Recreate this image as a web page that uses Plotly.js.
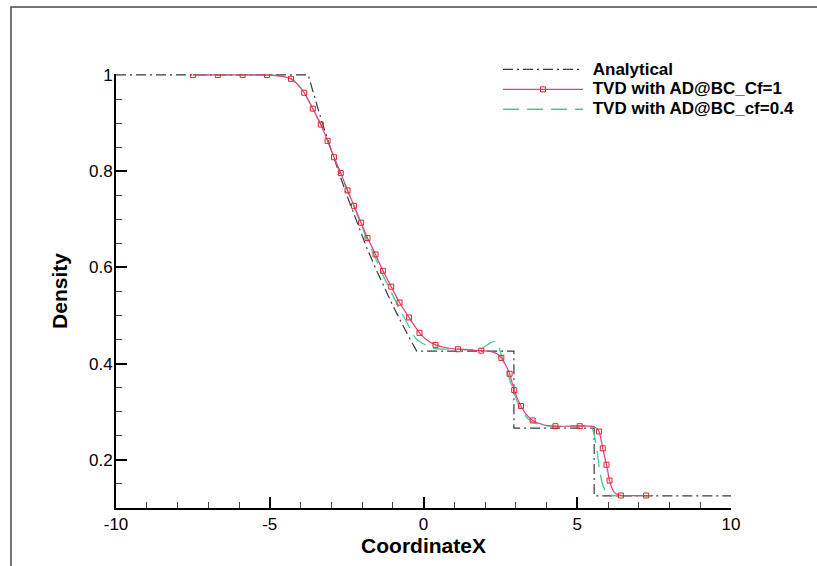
<!DOCTYPE html>
<html>
<head>
<meta charset="utf-8">
<script src="https://cdn.plot.ly/plotly-3.0.1.min.js"></script>
<style>
html,body{margin:0;padding:0;background:#fff;}
#chart{width:817px;height:566px;}
</style>
</head>
<body>
<div id="chart"></div>
<script>
// ---- Analytical solution ----
var anaX = [-10, -3.75, -3.5, -3.31, -3.0, -2.5, -2.0, -1.84, -1.5, -1.0, -0.54, -0.22, 2.94, 2.94, 5.55, 5.55, 10];
var anaY = [1.0, 1.0, 0.945, 0.904, 0.844, 0.751, 0.667, 0.640, 0.590, 0.521, 0.463, 0.426, 0.426, 0.266, 0.266, 0.125, 0.125];

// ---- TVD with AD@BC_Cf=1 (line) ----
var cf1X = [-7.5, -6.69, -5.88, -5.09, -4.7, -4.31, -4.1, -3.88, -3.60, -3.34, -3.12, -2.91, -2.69, -2.47, -2.26, -2.03, -1.82, -1.56, -1.32, -1.05, -0.78, -0.47, -0.13, 0.13, 0.39, 0.75, 1.12, 1.5, 1.88, 2.2, 2.4, 2.53, 2.68, 2.80, 2.95, 3.17, 3.35, 3.55, 3.9, 4.29, 4.7, 5.08, 5.45, 5.62, 5.71, 5.83, 5.95, 6.05, 6.15, 6.25, 6.42, 7.24, 7.47];
var cf1Y = [1.0, 1.0, 1.0, 1.0, 0.998, 0.992, 0.981, 0.963, 0.930, 0.897, 0.863, 0.829, 0.796, 0.760, 0.728, 0.693, 0.661, 0.627, 0.593, 0.560, 0.527, 0.496, 0.464, 0.448, 0.439, 0.433, 0.430, 0.428, 0.427, 0.425, 0.420, 0.412, 0.396, 0.379, 0.345, 0.312, 0.294, 0.282, 0.273, 0.270, 0.270, 0.270, 0.270, 0.266, 0.259, 0.224, 0.190, 0.157, 0.138, 0.130, 0.126, 0.126, 0.126];

// ---- TVD with AD@BC_Cf=1 (symbols) ----
var cf1MarkX = [-7.5, -6.69, -5.88, -5.09, -4.31, -3.88, -3.60, -3.34, -3.12, -2.91, -2.69, -2.47, -2.26, -2.03, -1.82, -1.56, -1.32, -1.05, -0.78, -0.47, -0.13, 0.39, 1.12, 1.88, 2.53, 2.80, 2.95, 3.17, 3.55, 4.29, 5.08, 5.71, 5.83, 5.95, 6.05, 6.42, 7.24];
var cf1MarkY = [1.0, 1.0, 1.0, 1.0, 0.992, 0.963, 0.930, 0.897, 0.863, 0.829, 0.796, 0.760, 0.728, 0.693, 0.661, 0.627, 0.593, 0.560, 0.527, 0.496, 0.464, 0.439, 0.430, 0.427, 0.412, 0.379, 0.345, 0.312, 0.282, 0.270, 0.270, 0.259, 0.224, 0.190, 0.157, 0.126, 0.126];

// ---- TVD with AD@BC_cf=0.4 ----
var cf04X = [-7.5, -5.09, -4.7, -4.31, -4.1, -3.88, -3.60, -3.34, -3.12, -2.91, -2.69, -2.47, -2.26, -2.03, -1.82, -1.56, -1.32, -1.05, -0.78, -0.50, -0.33, -0.15, 0.06, 0.25, 0.44, 0.8, 1.2, 1.63, 1.85, 2.01, 2.17, 2.33, 2.44, 2.52, 2.66, 2.82, 2.93, 3.06, 3.20, 3.36, 3.50, 3.80, 4.2, 4.8, 5.2, 5.37, 5.47, 5.56, 5.62, 5.68, 5.74, 5.80, 5.90, 6.02, 6.15, 7.47];
var cf04Y = [1.0, 1.0, 0.998, 0.992, 0.981, 0.963, 0.930, 0.897, 0.863, 0.829, 0.795, 0.759, 0.726, 0.690, 0.656, 0.619, 0.584, 0.549, 0.514, 0.481, 0.459, 0.447, 0.439, 0.434, 0.431, 0.430, 0.430, 0.429, 0.430, 0.436, 0.443, 0.446, 0.436, 0.420, 0.395, 0.363, 0.343, 0.319, 0.302, 0.288, 0.280, 0.273, 0.270, 0.270, 0.271, 0.274, 0.268, 0.250, 0.228, 0.200, 0.174, 0.155, 0.137, 0.129, 0.126, 0.126];

var seriesNames = ["Analytical", "TVD with AD@BC_Cf=1", "TVD with AD@BC_cf=0.4"];
var xTickVals = [-10, -5, 0, 5, 10];
var xTickText = ["-10", "-5", "0", "5", "10"];
var xTitle = "CoordinateX";
var yTitle = "Density";

var FONT = "Liberation Sans, Arial, Helvetica, sans-serif";
function legName(s){ return '<span style="font-size:17px"><b>&nbsp;' + s + '</b></span>'; }

var anaColor = '#3a3a3a';
var cf1Color = '#e0407e';
var cf1MarkColor = '#e8202a';
var cf04Color = '#3fd18c';

var traces = [
  {x: anaX, y: anaY, mode: 'lines', name: legName(seriesNames[0]),
   line: {color: anaColor, width: 1.2, dash: '10px,4px,2px,4px'}},
  {x: cf04X, y: cf04Y, mode: 'lines', name: legName(seriesNames[2]), showlegend: false, legendgroup: 'g04',
   line: {color: cf04Color, width: 1.3, dash: '16px,8px', shape: 'spline', smoothing: 0.6}},
  {x: cf1X, y: cf1Y, mode: 'lines', name: legName(seriesNames[1]), showlegend: false, legendgroup: 'g1',
   line: {color: cf1Color, width: 1.2, shape: 'spline', smoothing: 0.6}},
  {x: cf1MarkX, y: cf1MarkY, mode: 'markers', name: legName(seriesNames[1]), showlegend: false, legendgroup: 'g1',
   marker: {symbol: 'square-open', size: 5, color: cf1MarkColor, line: {width: 1, color: cf1MarkColor}}},
  {x: [null], y: [null], mode: 'lines+markers', name: legName(seriesNames[1]), legendgroup: 'g1',
   line: {color: cf1Color, width: 1.2},
   marker: {symbol: 'square-open', size: 5, color: cf1MarkColor, line: {width: 1, color: cf1MarkColor}}},
  {x: [null], y: [null], mode: 'lines', name: legName(seriesNames[2]), legendgroup: 'g04',
   line: {color: cf04Color, width: 1.3, dash: '16px,8px'}}
];

var L = 116, R = 731, T = 74, B = 508, W = 817, H = 566;
function px2paperX(p){ return (p - L) / (R - L); }
function px2paperY(p){ return (B - p) / (B - T); }

var layout = {
  width: W, height: H,
  margin: {l: L, r: W - R, t: T, b: H - B, pad: 0},
  paper_bgcolor: '#ffffff', plot_bgcolor: '#ffffff',
  font: {family: FONT, color: '#000', size: 17},
  showlegend: true,
  legend: {
    x: px2paperX(498), y: px2paperY(54.5), xanchor: 'left', yanchor: 'top',
    xref: 'paper', yref: 'paper',
    bgcolor: 'rgba(0,0,0,0)', borderwidth: 0,
    font: {family: FONT, size: 13, color: '#000'},
    itemwidth: 80, traceorder: 'normal'
  },
  xaxis: {
    range: [-10, 10], tickmode: 'array', tickvals: xTickVals, ticktext: xTickText,
    showline: true, linecolor: '#000', linewidth: 2,
    ticks: 'inside', ticklen: 11, tickwidth: 2, tickcolor: '#000',
    minor: {dtick: 1, tick0: 0, ticks: 'inside', ticklen: 6, tickwidth: 1, tickcolor: '#444', showgrid: false},
    showgrid: false, zeroline: false, mirror: false,
    tickfont: {family: FONT, size: 17, color: '#000'},
    title: {text: '<b>' + xTitle + '</b>', font: {family: FONT, size: 21, color: '#000'}, standoff: 1}
  },
  yaxis: {
    range: [0.1, 1.002], dtick: 0.2, tick0: 0,
    showline: true, linecolor: '#000', linewidth: 2,
    ticks: 'inside', ticklen: 11, tickwidth: 2, tickcolor: '#000',
    minor: {dtick: 0.05, ticks: 'inside', ticklen: 6, tickwidth: 1, tickcolor: '#444', showgrid: false},
    showgrid: false, zeroline: false, mirror: false,
    ticklabelstandoff: -2,
    tickfont: {family: FONT, size: 17, color: '#000'},
    title: {text: '<b>' + yTitle + '</b>', font: {family: FONT, size: 21, color: '#000'}, standoff: 16}
  },
  shapes: [
    {type: 'path', xref: 'paper', yref: 'paper',
     path: 'M' + px2paperX(11) + ',' + px2paperY(575) + ' L' + px2paperX(11) + ',' + px2paperY(7) + ' L' + px2paperX(825) + ',' + px2paperY(7),
     line: {color: '#4a4a4a', width: 1.5}, layer: 'above'}
  ]
};

Plotly.newPlot('chart', traces, layout, {displayModeBar: false, staticPlot: true});
</script>
</body>
</html>
